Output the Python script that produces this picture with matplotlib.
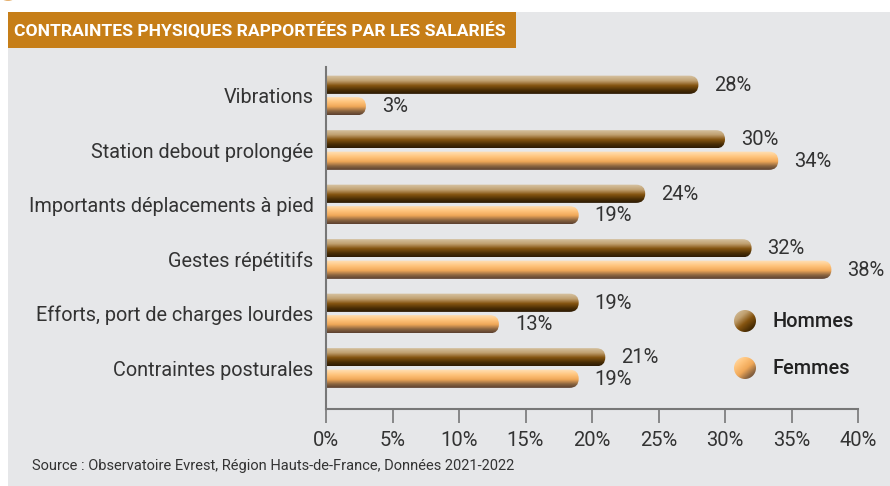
import matplotlib
matplotlib.use("Agg")
import matplotlib.pyplot as plt
import numpy as np
from matplotlib.patches import FancyBboxPatch, Rectangle, Circle
from matplotlib.colors import LinearSegmentedColormap

categories = ["Vibrations", "Station debout prolongée", "Importants déplacements à pied",
              "Gestes répétitifs", "Efforts, port de charges lourdes", "Contraintes posturales"]
hommes = [28, 30, 24, 32, 19, 21]
femmes = [3, 34, 19, 38, 13, 19]
series_names = ["Hommes", "Femmes"]
xticks = [0, 5, 10, 15, 20, 25, 30, 35, 40]
title = "CONTRAINTES PHYSIQUES RAPPORTÉES PAR LES SALARIÉS"
source = "Source : Observatoire Evrest, Région Hauts-de-France, Données 2021-2022"

W, H = 890, 486
fig = plt.figure(figsize=(W/100, H/100), dpi=100)
fig.patch.set_facecolor("white")
FONT = "Roboto"
TXT = "#333333"

# gray panel
fig.patches.append(Rectangle((8/W, 0), 1 - 8/W, 1 - 12/H, transform=fig.transFigure,
                             facecolor="#e6e7e9", edgecolor="none", zorder=-2))
# title box
fig.patches.append(Rectangle((8/W, 1 - 48.5/H), (516-8)/W, 36.5/H, transform=fig.transFigure,
                             facecolor="#c67e18", edgecolor="none", zorder=-1))
fig.patches.append(Circle((8/W, 1 + 3/H), 7/W, transform=fig.transFigure,
                          facecolor="#e0a050", edgecolor="none", zorder=-1))
fig.text(14/W, 1 - 30.5/H, title, color="white", fontsize=12.6, fontweight="bold",
         family=FONT, va="center", ha="left", zorder=2)

ax = fig.add_axes([326/W, 1 - 409/H, 532/W, (409-67)/H])
ax.set_facecolor("none")
n = len(categories)
y = np.arange(n)
off = 0.197
bh = 0.335
ax.set_xlim(0, 40)
ax.set_ylim(5.752, -0.523)

cm_h = LinearSegmentedColormap.from_list("h", [(0, "#d8c6a6"), (0.3, "#c0a070"), (0.55, "#855410"),
                                               (0.8, "#4a2e05"), (1, "#2c1a04")])
cm_f = LinearSegmentedColormap.from_list("f", [(0, "#ffe2b8"), (0.3, "#ffc47c"), (0.55, "#f0a858"),
                                               (0.8, "#8a6440"), (1, "#5a4030")])

bars_h = ax.barh(y - off, hommes, height=bh, color="none")
bars_f = ax.barh(y + off, femmes, height=bh, color="none")

# data units per pixel
px_x = 40 / 532
px_y = (5.752 + 0.523) / (409 - 67)
aspect = px_y / px_x
grad = np.linspace(0, 1, 64).reshape(-1, 1)

def fancy(bars, cmap, vals):
    for b, v in zip(bars, vals):
        x0, y0 = b.get_x(), b.get_y()
        w, h = b.get_width(), b.get_height()
        r = h / 2 / aspect  # in x units
        p = FancyBboxPatch((x0 - 2 * r, y0), w + 2 * r, h,
                           boxstyle=f"round,pad=0,rounding_size={r}",
                           mutation_aspect=aspect, facecolor="none", edgecolor="none",
                           transform=ax.transData)
        ax.add_patch(p)
        im = ax.imshow(grad, cmap=cmap, aspect="auto", extent=(x0 - 2 * r, x0 + w, y0 + h, y0),
                       interpolation="bilinear", zorder=2)
        im.set_clip_path(p)
        ax.text(v + 16 * px_x, y0 + h / 2 + 0.5 * px_y, f"{v}%", va="center", ha="left",
                fontsize=14.5, color=TXT, family=FONT)

fancy(bars_h, cm_h, hommes)
fancy(bars_f, cm_f, femmes)
ax.set_xlim(0, 40)
ax.set_ylim(5.752, -0.523)

ax.set_yticks(y)
ax.set_yticklabels(categories, fontsize=14.3, color=TXT, family=FONT)
ax.tick_params(axis="y", length=0, pad=9)
ax.set_xticks(xticks)
ax.set_xticklabels([f"{t}%" for t in xticks], fontsize=14.5, color=TXT, family=FONT)
ax.tick_params(axis="x", direction="out", length=10, width=1.2, color="#777777", pad=6)
for s in ["top", "right"]:
    ax.spines[s].set_visible(False)
for s in ["left", "bottom"]:
    ax.spines[s].set_color("#777777")
    ax.spines[s].set_linewidth(1.5)

# legend
for i, (name, cmap) in enumerate(zip(series_names, [cm_h, cm_f])):
    cy = 1 - (321 + 47 * i) / H
    cx = 745 / W
    lax = fig.add_axes([cx - 11/W, cy - 11/H, 22/W, 22/H])
    lax.axis("off")
    circ = Circle((0.5, 0.5), 0.5, transform=lax.transAxes, facecolor="none", edgecolor="none")
    lax.add_patch(circ)
    gx, gy = np.meshgrid(np.linspace(0, 1, 40), np.linspace(0, 1, 40))
    g = np.clip(0.55 * gy + 0.45 * gx, 0, 1)
    im = lax.imshow(g, cmap=cmap, extent=(0, 1, 1, 0), interpolation="bilinear")
    im.set_clip_path(circ)
    lax.set_xlim(0, 1); lax.set_ylim(1, 0)
    fig.text(773/W, cy, name, fontsize=14.3, fontweight="medium", color="#222222",
             family=FONT, va="center", ha="left")

fig.text(32/W, 1 - 466/H, source, fontsize=10.5, color=TXT, family=FONT, va="center", ha="left")

fig.savefig("out.png", dpi=100, facecolor="white")
